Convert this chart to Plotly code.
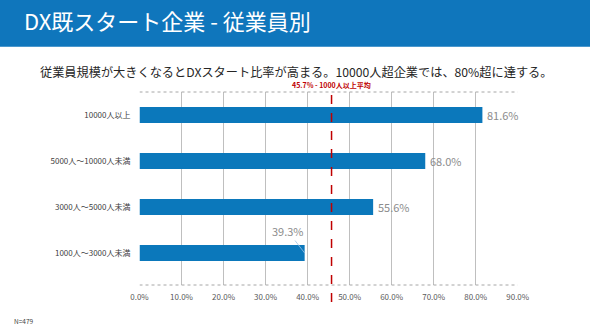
import plotly.graph_objects as go

# Share of companies that have started DX, by employee count
categories = ["10000人以上", "5000人～10000人未満", "3000人～5000人未満", "1000人～3000人未満"]
values = [81.6, 68.0, 55.6, 39.3]
average = 45.7
x_ticks = [0, 10, 20, 30, 40, 50, 60, 70, 80, 90]
x_tick_labels = [f"{v:.1f}%" for v in x_ticks]

title_text = "DX既スタート企業 - 従業員別"
subtitle_text = "従業員規模が大きくなるとDXスタート比率が高まる。10000人超企業では、80%超に達する。"
average_label = f"{average}% - 1000人以上平均"
sample_note = "N=479"

JP_FONT = "Noto Sans CJK JP"
BAR_BLUE = "#0B78BB"
HEADER_BLUE = "#0F76BC"

fig = go.Figure()
fig.add_trace(go.Bar(
    x=values, y=categories, orientation="h",
    marker=dict(color=BAR_BLUE, line=dict(width=0)),
    width=0.35, hoverinfo="skip",
))

W, H = 590, 331
x_dom = [139.5 / W, 517.7 / W]
y_dom = [(H - 285) / H, (H - 92) / H]

shapes = [
    # header band
    dict(type="rect", xref="paper", yref="paper", x0=0, x1=1, y0=1 - 46.7 / H, y1=1,
         fillcolor=HEADER_BLUE, line=dict(width=0), layer="below"),
    # dotted frame lines at top and bottom of the plot
    dict(type="line", xref="x", yref="paper", x0=0, x1=x_ticks[-1], y0=y_dom[1], y1=y_dom[1],
         line=dict(color="#A6A6A6", width=1, dash="dot")),
    dict(type="line", xref="x", yref="paper", x0=0, x1=x_ticks[-1], y0=y_dom[0], y1=y_dom[0],
         line=dict(color="#A6A6A6", width=1, dash="dot")),
    # average reference line
    dict(type="line", xref="x", yref="paper", x0=average, x1=average,
         y0=1 - 302 / H, y1=y_dom[1],
         line=dict(color="#C00000", width=1.5, dash="dash")),
]

annotations = [
    dict(text=title_text, xref="paper", yref="paper", x=22 / W, y=1 - 20.5 / H,
         xanchor="left", yanchor="middle", showarrow=False,
         font=dict(family=JP_FONT, size=22, color="white")),
    dict(text=subtitle_text, xref="paper", yref="paper", x=296 / W, y=1 - 72 / H,
         xanchor="center", yanchor="middle", showarrow=False,
         font=dict(family=JP_FONT, size=12.2, color="#262626")),
    dict(text=f"<b>{average_label}</b>", xref="x", yref="paper", x=average, y=1 - 85 / H,
         xanchor="center", yanchor="middle", showarrow=False,
         font=dict(family=JP_FONT, size=7, color="#C00000")),
    dict(text=sample_note, xref="paper", yref="paper", x=12 / W, y=1 - 320.7 / H,
         xanchor="left", yanchor="middle", showarrow=False,
         font=dict(family=JP_FONT, size=6.5, color="#404040")),
]

# value labels: right of the bar end, except the shortest one which sits above with a leader line
for cat, v in zip(categories, values):
    if v == min(values):
        annotations.append(dict(
            text=f"{v:.1f}%", x=v, y=cat, xref="x", yref="y",
            showarrow=True, arrowhead=0, arrowwidth=0.8, arrowcolor="#9DC3E6",
            ax=-17, ay=-22, font=dict(family=JP_FONT, size=11, color="#8C8C8C"),
        ))
    else:
        annotations.append(dict(
            text=f"{v:.1f}%", x=v, y=cat, xref="x", yref="y",
            xanchor="left", yanchor="middle", xshift=3, showarrow=False,
            font=dict(family=JP_FONT, size=11, color="#8C8C8C"),
        ))

fig.update_layout(
    width=W, height=H,
    margin=dict(l=0, r=0, t=0, b=0),
    paper_bgcolor="white", plot_bgcolor="white",
    showlegend=False, bargap=0.65,
    shapes=shapes, annotations=annotations,
    xaxis=dict(
        domain=x_dom, range=[0, x_ticks[-1]], automargin=False,
        tickmode="array", tickvals=x_ticks, ticktext=x_tick_labels,
        showgrid=True, gridcolor="#BFBFBF", gridwidth=1, zeroline=False,
        showline=False, ticks="", ticklabelstandoff=6,
        tickfont=dict(family=JP_FONT, size=8, color="#595959"),
    ),
    yaxis=dict(
        domain=y_dom, autorange="reversed", automargin=False,
        showgrid=False, zeroline=False, showline=False, ticks="",
        ticklabelstandoff=8,
        tickfont=dict(family=JP_FONT, size=8, color="#404040"),
    ),
)

fig.write_html("out.html")
